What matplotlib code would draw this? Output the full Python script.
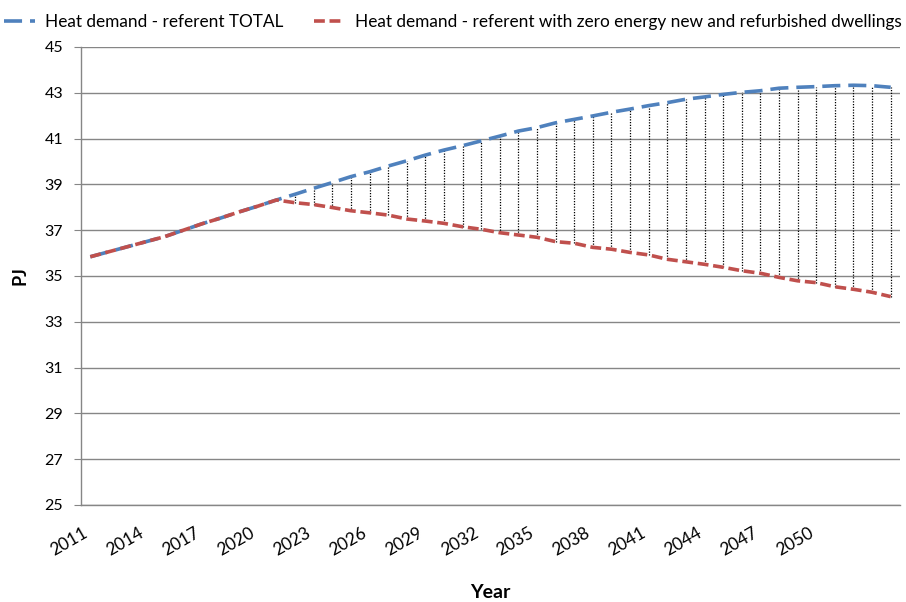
import matplotlib.pyplot as plt
import numpy as np

years = list(range(2011, 2055))

# Common history 2011-2021, scenarios split from 2022
history = [35.84, 36.06, 36.28, 36.50, 36.72, 37.00, 37.28, 37.53, 37.80, 38.05, 38.32]
total_future = [38.57, 38.83, 39.08, 39.34, 39.55, 39.80, 40.03, 40.28, 40.50, 40.69,
                40.90, 41.11, 41.33, 41.48, 41.69, 41.84, 41.99, 42.15, 42.29, 42.44,
                42.57, 42.72, 42.82, 42.93, 43.02, 43.09, 43.20, 43.24, 43.27, 43.31,
                43.33, 43.31, 43.24]
zero_future = [38.20, 38.12, 37.99, 37.85, 37.76, 37.66, 37.49, 37.40, 37.30, 37.15,
               37.04, 36.89, 36.79, 36.69, 36.50, 36.43, 36.25, 36.17, 36.03, 35.92,
               35.73, 35.62, 35.51, 35.38, 35.23, 35.12, 34.94, 34.79, 34.71, 34.53,
               34.42, 34.29, 34.10]

total = np.array(history + total_future)
zero_energy = np.array(history + zero_future)

plt.rcParams['font.family'] = ['Lato', 'DejaVu Sans']

fig = plt.figure(figsize=(9.06, 6.02), dpi=100)
ax = fig.add_axes([81 / 906, 1 - 505 / 602, 819 / 906, 458 / 602])

x = np.arange(len(years))

# Drop lines between the two scenarios
gap = total != zero_energy
ax.vlines(x[gap], zero_energy[gap], total[gap], colors='black', linestyles=(0, (1, 1.2)),
          linewidth=0.9, zorder=2)

ax.plot(x, total, color='#4F81BD', linewidth=2.6, dashes=(5, 2.2),
        label='Heat demand - referent TOTAL', zorder=3)
ax.plot(x, zero_energy, color='#C0504D', linewidth=2.6, dashes=(3, 1.3),
        label='Heat demand - referent with zero energy new and refurbished dwellings', zorder=4)

ax.set_xlim(-0.5, len(years) - 0.5)
ax.set_ylim(25, 45)
ax.set_yticks(range(25, 46, 2))
ax.tick_params(axis='y', labelsize=11.5, length=5, color='#868686', pad=8)

tick_idx = list(range(0, 40, 3))
ax.set_xticks(tick_idx)
ax.set_xticklabels([str(years[i]) for i in tick_idx], rotation=30, ha='right',
                   va='top', fontsize=12.5)
ax.tick_params(axis='x', length=0, pad=14)

ax.grid(axis='y', color='#868686', linewidth=1)
ax.set_axisbelow(True)
for side in ['top', 'right']:
    ax.spines[side].set_visible(False)
for side in ['left', 'bottom']:
    ax.spines[side].set_color('#868686')
    ax.spines[side].set_linewidth(1)

ax.set_ylabel('PJ', fontsize=13, fontweight='bold', labelpad=11)
fig.text(490 / 906, 1 - 592 / 602, 'Year', fontsize=14, fontweight='bold',
         ha='center', va='center')

fig.legend(loc='center', bbox_to_anchor=(0.5, 1 - 22 / 602), ncol=2, frameon=False,
           fontsize=12.4, handlelength=1.8, columnspacing=1.8, handletextpad=0.55)

fig.savefig('out.png', dpi=100)
